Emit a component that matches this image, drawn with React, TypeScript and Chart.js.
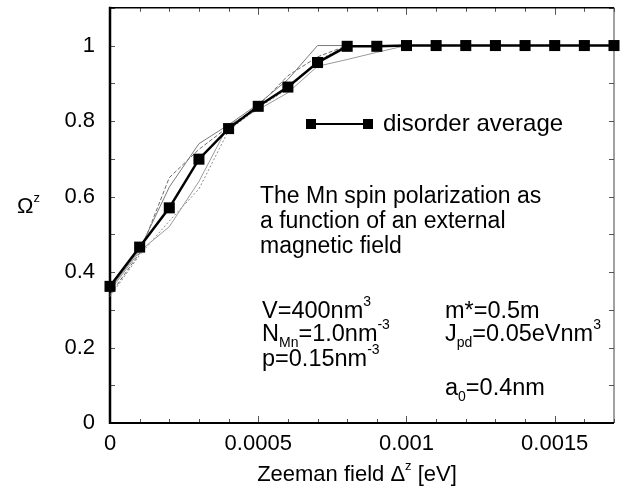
import React, { useEffect, useRef } from 'react';
import { Chart, registerables } from 'chart.js';

Chart.register(...registerables);

// ---- data ----
const fieldEV = [0, 0.0001, 0.0002, 0.0003, 0.0004, 0.0005, 0.0006, 0.0007, 0.0008, 0.0009, 0.001, 0.0011, 0.0012, 0.0013, 0.0014, 0.0015, 0.0016, 0.0017];
const disorderAverage = [0.362, 0.466, 0.57, 0.699, 0.78, 0.839, 0.89, 0.955, 0.998, 0.998, 1, 1, 1, 1, 1, 1, 1, 1];
const realizationA = [0.355, 0.46, 0.625, 0.74, 0.79, 0.845, 0.91, 1.0, 1, 1, 1, 1, 1, 1, 1, 1, 1, 1];
const realizationB = [0.34, 0.45, 0.65, 0.725, 0.785, 0.84, 0.92, 0.97, 1.0, 1, 1, 1, 1, 1, 1, 1, 1, 1];
const realizationC = [0.35, 0.455, 0.52, 0.64, 0.79, 0.83, 0.875, 0.945, 0.963, 0.982, 1, 1, 1, 1, 1, 1, 1, 1];
const realizationD = [0.335, 0.445, 0.535, 0.62, 0.775, 0.835, 0.885, 0.96, 1.0, 1, 1, 1, 1, 1, 1, 1, 1, 1];

const xTickValues = [0, 0.0005, 0.001, 0.0015];
const xTickLabels = ['0', '0.0005', '0.001', '0.0015'];
const yTickValues = [0, 0.2, 0.4, 0.6, 0.8, 1];
const yTickLabels = ['0', '0.2', '0.4', '0.6', '0.8', '1'];
const yMinorTicks = [0, 0.1, 0.2, 0.3, 0.4, 0.5, 0.6, 0.7, 0.8, 0.9, 1.0, 1.1];

const FONT = "'Liberation Sans', Arial, Helvetica, sans-serif";

type Part = [string, 'n' | 'sup' | 'sub'];

function drawRich(ctx: CanvasRenderingContext2D, x: number, y: number, parts: Part[], size: number, align: 'left' | 'center' = 'left') {
  const small = Math.round(size * 0.6);
  const widths = parts.map(([t, k]) => {
    ctx.font = `${k === 'n' ? size : small}px ${FONT}`;
    return ctx.measureText(t).width;
  });
  const total = widths.reduce((a, b) => a + b, 0);
  let cx = align === 'center' ? x - total / 2 : x;
  parts.forEach(([t, k], i) => {
    ctx.font = `${k === 'n' ? size : small}px ${FONT}`;
    const dy = k === 'sup' ? -size * 0.5 : k === 'sub' ? size * 0.25 : 0;
    ctx.fillText(t, cx, y + dy);
    cx += widths[i];
  });
}

function labelFor(values: number[], labels: string[], v: number) {
  for (let i = 0; i < values.length; i++) {
    if (Math.abs(values[i] - v) < 1e-9) return labels[i];
  }
  return '';
}

const decorPlugin = {
  id: 'decor',
  beforeDatasetsDraw(chart: any) {
    const { ctx, chartArea, scales } = chart;
    const { left, right, top, bottom } = chartArea;
    const x = scales.x;
    const y = scales.y;
    ctx.save();
    ctx.strokeStyle = '#555';
    ctx.lineWidth = 1;
    ctx.beginPath();
    fieldEV.forEach((v) => {
      const px = Math.round(x.getPixelForValue(v)) + 0.5;
      const major = xTickValues.some((t) => Math.abs(t - v) < 1e-9);
      const len = major ? 7 : 4;
      ctx.moveTo(px, bottom);
      ctx.lineTo(px, bottom - len);
      ctx.moveTo(px, top);
      ctx.lineTo(px, top + len);
    });
    yMinorTicks.forEach((v) => {
      const py = Math.round(y.getPixelForValue(v)) + 0.5;
      ctx.moveTo(left, py);
      ctx.lineTo(left + 5, py);
      ctx.moveTo(right, py);
      ctx.lineTo(right - 5, py);
    });
    ctx.stroke();
    // frame
    ctx.strokeStyle = '#000';
    ctx.lineWidth = 1.5;
    ctx.beginPath();
    ctx.moveTo(left, top);
    ctx.lineTo(right, top);
    ctx.stroke();
    ctx.strokeStyle = '#444';
    ctx.lineWidth = 1;
    ctx.beginPath();
    ctx.moveTo(right, top);
    ctx.lineTo(right, bottom);
    ctx.stroke();
    ctx.strokeStyle = '#000';
    ctx.lineWidth = 2;
    ctx.beginPath();
    ctx.moveTo(left, bottom);
    ctx.lineTo(right, bottom);
    ctx.stroke();
    ctx.lineWidth = 2.5;
    ctx.beginPath();
    ctx.moveTo(left, top - 1);
    ctx.lineTo(left, bottom + 1);
    ctx.stroke();
    ctx.restore();
  },
  afterDraw(chart: any) {
    const { ctx } = chart;
    ctx.save();
    ctx.fillStyle = '#000';
    ctx.textBaseline = 'alphabetic';
    ctx.textAlign = 'left';

    // legend
    ctx.strokeStyle = '#000';
    ctx.lineWidth = 2;
    ctx.beginPath();
    ctx.moveTo(311, 124);
    ctx.lineTo(368, 124);
    ctx.stroke();
    ctx.fillRect(306, 119, 10, 10);
    ctx.fillRect(363, 119, 10, 10);
    drawRich(ctx, 383, 131, [['disorder average', 'n']], 24);

    // description
    drawRich(ctx, 260, 203, [['The Mn spin polarization as', 'n']], 23);
    drawRich(ctx, 260, 228, [['a function of an external', 'n']], 23);
    drawRich(ctx, 260, 253, [['magnetic field', 'n']], 23);

    // parameters
    drawRich(ctx, 262, 318, [['V=400nm', 'n'], ['3', 'sup']], 23.5);
    drawRich(ctx, 262, 341, [['N', 'n'], ['Mn', 'sub'], ['=1.0nm', 'n'], ['-3', 'sup']], 23.5);
    drawRich(ctx, 262, 366, [['p=0.15nm', 'n'], ['-3', 'sup']], 23.5);
    drawRich(ctx, 445, 318, [['m*=0.5m', 'n']], 23.5);
    drawRich(ctx, 445, 341, [['J', 'n'], ['pd', 'sub'], ['=0.05eVnm', 'n'], ['3', 'sup']], 23.5);
    drawRich(ctx, 445, 395, [['a', 'n'], ['0', 'sub'], ['=0.4nm', 'n']], 23.5);

    // axis titles
    drawRich(ctx, 357, 481, [['Zeeman field \u0394', 'n'], ['z', 'sup'], [' [eV]', 'n']], 22, 'center');
    drawRich(ctx, 17, 213, [['\u03A9', 'n'], ['z', 'sup']], 22);
    ctx.restore();
  },
};

function pts(ys: number[]) {
  return fieldEV.map((x, i) => ({ x, y: ys[i] }));
}

export default function App() {
  const ref = useRef<HTMLCanvasElement | null>(null);
  useEffect(() => {
    if (!ref.current) return;
    const thin = (data: number[], dash: number[], color: string) => ({
      data: pts(data),
      borderColor: color,
      borderWidth: 1,
      borderDash: dash,
      pointRadius: 0,
      tension: 0,
      clip: false as any,
    });
    const chart = new Chart(ref.current, {
      type: 'line',
      data: {
        datasets: [
          {
            data: pts(disorderAverage),
            borderColor: '#000',
            borderWidth: 2.5,
            pointStyle: 'rect',
            pointRadius: 7.8,
            pointBorderWidth: 0,
            pointBackgroundColor: '#000',
            tension: 0,
            clip: false as any,
          },
          thin(realizationA, [], '#7a7a7a'),
          thin(realizationB, [4, 2], '#6a6a6a'),
          thin(realizationC, [], '#9a9a9a'),
          thin(realizationD, [2, 2], '#8a8a8a'),
        ],
      },
      options: {
        responsive: false,
        animation: false,
        devicePixelRatio: 1,
        layout: { padding: { top: 4, right: 16, left: 0, bottom: 0 } },
        plugins: { legend: { display: false }, tooltip: { enabled: false } },
        scales: {
          x: {
            type: 'linear',
            min: 0,
            max: 0.0017,
            grid: { display: false, drawTicks: false },
            border: { display: false },
            ticks: {
              stepSize: 0.0005,
              includeBounds: false,
              autoSkip: false,
              maxRotation: 0,
              padding: 8,
              color: '#000',
              font: { family: FONT, size: 22 },
              callback: (v: any) => labelFor(xTickValues, xTickLabels, Number(v)),
            },
            afterFit: (s: any) => {
              s.height = 64;
              s.paddingLeft = 0;
              s.paddingRight = 0;
            },
          },
          y: {
            type: 'linear',
            min: 0,
            max: 1.1,
            grid: { display: false, drawTicks: false },
            border: { display: false },
            ticks: {
              stepSize: 0.2,
              includeBounds: false,
              autoSkip: false,
              padding: 15,
              color: '#000',
              font: { family: FONT, size: 22 },
              callback: (v: any) => labelFor(yTickValues, yTickLabels, Number(v)),
            },
            afterFit: (s: any) => {
              s.width = 110;
              s.paddingTop = 0;
              s.paddingBottom = 0;
            },
          },
        },
      },
      plugins: [decorPlugin],
    });
    return () => chart.destroy();
  }, []);
  return (
    <div style={{ position: 'fixed', left: 0, top: 0, width: 630, height: 487, background: '#fff' }}>
      <canvas ref={ref} width={630} height={487} style={{ display: 'block' }} />
    </div>
  );
}
